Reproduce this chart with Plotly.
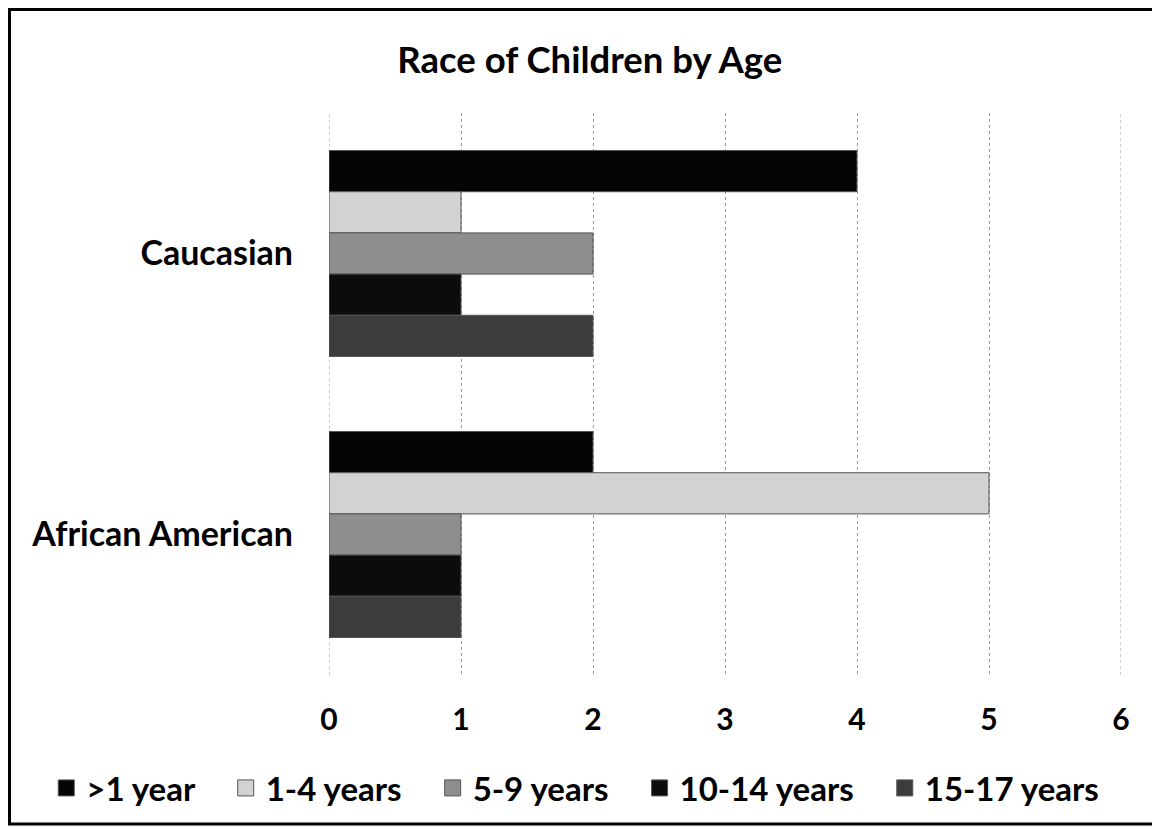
import plotly.graph_objects as go

# ---- data ----
categories = ["Caucasian", "African American"]
series_names = [">1 year", "1-4 years", "5-9 years", "10-14 years", "15-17 years"]
vals_under_1 = [4, 2]
vals_1_4 = [1, 5]
vals_5_9 = [2, 1]
vals_10_14 = [1, 1]
vals_15_17 = [2, 1]
x_tick_vals = [0, 1, 2, 3, 4, 5, 6]
title_text = "Race of Children by Age"

series_values = [vals_under_1, vals_1_4, vals_5_9, vals_10_14, vals_15_17]
series_colors = ["#050505", "#d2d2d2", "#8e8e8e", "#0c0c0c", "#3c3c3c"]

FONT = "Lato"
PAD = "\u00a0" * 3 + "\u200a"  # extra space between legend entries

fig = go.Figure()
n = len(series_names)
for i, (name, vals, col) in enumerate(zip(series_names, series_values, series_colors)):
    fig.add_trace(go.Bar(
        y=categories, x=vals, name=name, orientation="h",
        legendgroup=name, showlegend=False,
        marker=dict(color=col, line=dict(color="#555555", width=1)),
    ))
# legend entries with larger square swatches
for i, (name, col) in enumerate(zip(series_names, series_colors)):
    fig.add_trace(go.Scatter(
        x=[None], y=[None], mode="markers", legendgroup=name,
        name=name + (PAD if i < n - 1 else ""),
        marker=dict(symbol="square", size=18, color=col,
                    line=dict(color="#555555", width=1)),
        hoverinfo="skip",
    ))

fig.update_layout(
    width=1152, height=821,
    paper_bgcolor="white", plot_bgcolor="white",
    barmode="group", bargap=0.267, bargroupgap=0,
    margin=dict(l=321, r=39, t=105, b=154, autoexpand=False),
    font=dict(family=FONT, color="black", size=30, weight="bold"),
    title=dict(text="<b>" + title_text + "</b>", x=0.505, xref="container",
               xanchor="center", y=0.9367, yref="container", yanchor="middle",
               font=dict(family=FONT, size=36.5, color="black")),
    xaxis=dict(range=[0, 6], tickvals=x_tick_vals, showgrid=True,
               gridcolor="#9a9a9a", griddash="dot", gridwidth=1,
               zeroline=False, showline=False, ticks="",
               ticklabelstandoff=24,
               tickfont=dict(family=FONT, size=30, color="black", weight="bold")),
    yaxis=dict(categoryorder="array", categoryarray=categories,
               autorange="reversed", showgrid=False, zeroline=False,
               showline=False, ticks="", ticklabelstandoff=35,
               tickfont=dict(family=FONT, size=34, color="black", weight="bold")),
    legend=dict(orientation="h", xref="paper", x=-0.357, xanchor="left",
                yref="paper", y=-0.201, yanchor="middle",
                font=dict(family=FONT, size=33, color="black", weight="bold"),
                traceorder="normal"),
    showlegend=True,
)

# dotted gridlines at the two ends of the value axis
for xv in (x_tick_vals[0], x_tick_vals[-1]):
    fig.add_shape(type="line", xref="x", yref="paper", x0=xv, x1=xv, y0=0, y1=1,
                  line=dict(color="#9a9a9a", width=1, dash="dot"), layer="below")

# outer frame of the chart
fig.add_shape(type="rect", xref="paper", yref="paper",
              x0=-0.4034, x1=1.0429, y0=-0.2651, y1=1.1842,
              line=dict(color="black", width=3), fillcolor="rgba(0,0,0,0)",
              layer="above")

fig.write_html("out.html")
